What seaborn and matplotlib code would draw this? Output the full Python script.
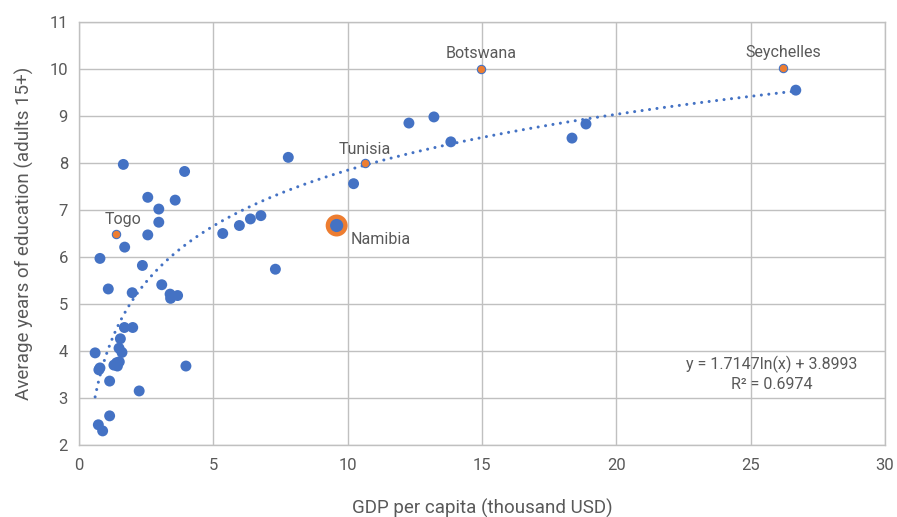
import numpy as np
import pandas as pd
import matplotlib
matplotlib.use("Agg")
import matplotlib.pyplot as plt
import seaborn as sns

# GDP per capita (thousand USD) and average years of education for each country
gdp = [26.68, 12.28, 13.21, 13.84, 18.35, 18.87, 7.79, 10.22, 7.31, 6.77,
       6.38, 5.97, 5.35, 3.93, 3.58, 2.97, 2.97, 2.56, 2.56, 1.65,
       1.70, 0.78, 2.36, 1.09, 1.98, 3.08, 3.39, 3.67, 3.41, 1.69,
       2.00, 1.54, 1.49, 1.60, 0.60, 1.40, 1.50, 1.43, 1.30, 0.74,
       0.78, 3.98, 1.14, 2.24, 1.14, 0.72, 0.88]
edu = [9.55, 8.85, 8.98, 8.45, 8.53, 8.83, 8.12, 7.56, 5.74, 6.88,
       6.81, 6.67, 6.50, 7.82, 7.21, 7.02, 6.74, 7.27, 6.47, 7.97,
       6.21, 5.97, 5.82, 5.32, 5.24, 5.41, 5.21, 5.18, 5.12, 4.50,
       4.50, 4.26, 4.06, 3.97, 3.96, 3.75, 3.77, 3.68, 3.70, 3.60,
       3.64, 3.68, 3.36, 3.15, 2.62, 2.43, 2.30]

# Highlighted countries
hl_names = ["Seychelles", "Botswana", "Tunisia", "Togo"]
hl_gdp = [26.20, 14.96, 10.63, 1.39]
hl_edu = [10.02, 10.00, 8.00, 6.50]

focus_name = "Namibia"
focus_gdp = 9.59
focus_edu = 6.67

# Logarithmic trend line coefficients
trend_a = 1.7147
trend_b = 3.8993
trend_r2 = 0.6974
trend_range = (0.6, 26.7)

x_ticks = [0, 5, 10, 15, 20, 25, 30]
y_ticks = [2, 3, 4, 5, 6, 7, 8, 9, 10, 11]

BLUE = "#4472C4"
ORANGE = "#ED7D31"
GRID = "#c0c0c0"
TEXT = "#595959"

sns.set_theme(style="white")
plt.rcParams["font.family"] = ["Roboto", "DejaVu Sans"]

fig = plt.figure(figsize=(8.97, 5.17), dpi=100)
ax = fig.add_axes([79 / 897, 1 - 445 / 517, (885 - 79) / 897, (445 - 22) / 517])

df = pd.DataFrame({"gdp": gdp, "edu": edu})
hl = pd.DataFrame({"gdp": hl_gdp, "edu": hl_edu, "name": hl_names})

# Trend line
tx = np.linspace(trend_range[0], trend_range[1], 400)
ty = trend_a * np.log(tx) + trend_b
sns.lineplot(x=tx, y=ty, ax=ax, color=BLUE, linewidth=2.2,
             linestyle=(0, (0.01, 2.45)), dash_capstyle="round", zorder=2)

# All countries
sns.scatterplot(data=df, x="gdp", y="edu", ax=ax, color=BLUE, s=62,
                edgecolor="none", linewidth=0, zorder=3)

# Namibia: orange halo with blue centre
sns.scatterplot(x=[focus_gdp], y=[focus_edu], ax=ax, color=ORANGE, s=250,
                edgecolor="none", linewidth=0, zorder=4)
sns.scatterplot(x=[focus_gdp], y=[focus_edu], ax=ax, color=BLUE, s=90,
                edgecolor="none", linewidth=0, zorder=5)

# Highlighted countries
sns.scatterplot(data=hl, x="gdp", y="edu", ax=ax, color=ORANGE, s=36,
                edgecolor=BLUE, linewidth=0.8, zorder=5)

label_offsets = {"Seychelles": (0, 11), "Botswana": (0, 11),
                 "Tunisia": (0, 10), "Togo": (5, 10)}
for n, xv, yv in zip(hl_names, hl_gdp, hl_edu):
    ax.annotate(n, (xv, yv), xytext=label_offsets[n], textcoords="offset points",
                ha="center", va="center", fontsize=11.5, color=TEXT, zorder=6)
ax.annotate(focus_name, (focus_gdp, focus_edu), xytext=(10, -10),
            textcoords="offset points", ha="left", va="center",
            fontsize=11.5, color=TEXT, zorder=6)

# Equation text
ax.text(25.8, 3.72, f"y = {trend_a}ln(x) + {trend_b}", ha="center", va="center",
        fontsize=11.5, color=TEXT, zorder=6)
ax.text(25.8, 3.29, f"R² = {trend_r2}", ha="center", va="center",
        fontsize=11.5, color=TEXT, zorder=6)

ax.set_xlim(0, 30)
ax.set_ylim(2, 11)
ax.set_xticks(x_ticks)
ax.set_yticks(y_ticks)
ax.set_xticklabels([str(v) for v in x_ticks])
ax.set_yticklabels([str(v) for v in y_ticks])
ax.grid(True, color=GRID, linewidth=1.0)
ax.set_axisbelow(True)
for sp in ax.spines.values():
    sp.set_color(GRID)
    sp.set_linewidth(1.0)
ax.tick_params(axis="both", length=0, labelsize=12, labelcolor=TEXT)
ax.tick_params(axis="x", pad=9)
ax.tick_params(axis="y", pad=8)

ax.set_xlabel("GDP per capita (thousand USD)", fontsize=13.5, color=TEXT, labelpad=19)
ax.set_ylabel("Average years of education (adults 15+)", fontsize=13.5, color=TEXT,
              labelpad=11)

fig.savefig("out.png", dpi=100)
